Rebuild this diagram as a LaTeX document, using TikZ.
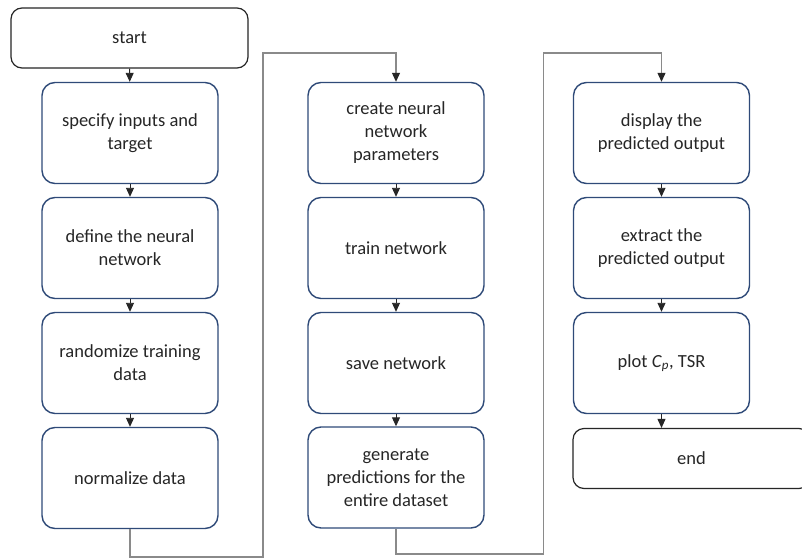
\documentclass[tikz,border=0pt]{standalone}
\usepackage{fontspec}
\setmainfont{Carlito}
\usetikzlibrary{arrows.meta}

\definecolor{boxblue}{HTML}{2F4A78}
\definecolor{linegray}{HTML}{8A8A8A}

\tikzset{
  stepbox/.style={draw=boxblue, line width=1.4pt, rounded corners=13pt,
    minimum width=176pt, minimum height=101pt, align=center,
    font=\fontsize{18.5}{23}\selectfont, text=black!85},
  termbox/.style={draw=black!85, line width=1.2pt, rounded corners=11pt,
    minimum width=237pt, minimum height=60pt, align=center,
    font=\fontsize{18.5}{23}\selectfont, text=black!85},
  flow/.style={draw=black!85, line width=0.9pt, -{Triangle[width=8pt,length=9pt]}},
  link/.style={draw=linegray, line width=1.1pt, -{Triangle[width=8pt,length=9pt,color=black!85]}}
}

\begin{document}
\begin{tikzpicture}[x=1pt,y=-1pt]
\clip (0,0) rectangle (802,559);
\fill[white] (0,0) rectangle (802,559);

% first column
\node[termbox] (start) at (129.5,38) {start};
\node[stepbox] (inputs) at (130,133) {specify inputs and\\target};
\node[stepbox] (define) at (130,248) {define the neural\\network};
\node[stepbox] (random) at (130,363) {randomize training\\data};
\node[stepbox] (normal) at (130,478) {normalize data};

% second column
\node[stepbox] (params) at (396,133) {create neural\\network\\parameters};
\node[stepbox] (train) at (396,248) {train network};
\node[stepbox] (save) at (396,363) {save network};
\node[stepbox] (predict) at (396,477.5) {generate\\predictions for the\\entire dataset};

% third column
\node[stepbox] (display) at (661.5,133) {display the\\predicted output};
\node[stepbox] (extract) at (661.5,248) {extract the\\predicted output};
\node[stepbox] (plot) at (661.5,363) {plot \textit{C}\textsubscript{\textit{p}}, TSR};
\node[termbox] (finish) at (691.5,458.5) {end};

\draw[flow] (start) -- (inputs);
\draw[flow] (inputs) -- (define);
\draw[flow] (define) -- (random);
\draw[flow] (random) -- (normal);

\draw[flow] (params) -- (train);
\draw[flow] (train) -- (save);
\draw[flow] (save) -- (predict);

\draw[flow] (display) -- (extract);
\draw[flow] (extract) -- (plot);
\draw[flow] (plot.south) -- (plot.south |- finish.north);

% links between columns
\coordinate (lowA) at (263,557);
\coordinate (topA) at (263,53);
\coordinate (lowB) at (543.5,554);
\coordinate (topB) at (543.5,53);

\draw[link] (normal.south) |- (lowA) -- (topA) -| (params.north);
\draw[link] (predict.south) |- (lowB) -- (topB) -| (display.north);
\end{tikzpicture}
\end{document}
